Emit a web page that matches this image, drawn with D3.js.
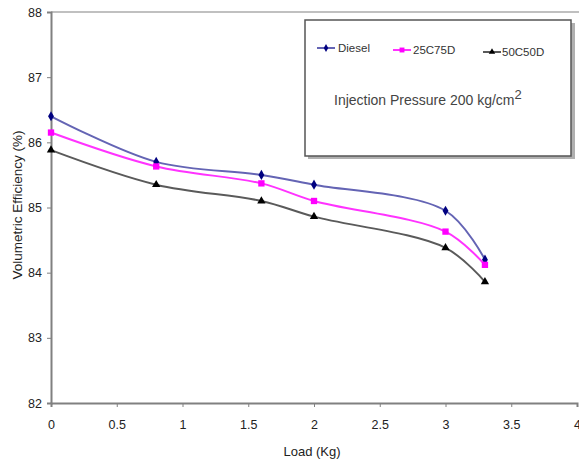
<!DOCTYPE html>
<html>
<head>
<meta charset="utf-8">
<script src="https://cdnjs.cloudflare.com/ajax/libs/d3/7.8.5/d3.min.js"></script>
<style>
  html, body { margin: 0; padding: 0; background: #fff; }
  svg { display: block; font-family: Arial, "Liberation Sans", sans-serif; }
</style>
</head>
<body>
<svg id="chart" width="579" height="463"></svg>
<script>
// Load (kg) at each measurement
const loads = [0, 0.8, 1.6, 2, 3, 3.3];
// Volumetric efficiency (%) per fuel blend
const diesel = [86.4, 85.7, 85.5, 85.35, 84.95, 84.2];
const c25d75 = [86.15, 85.63, 85.37, 85.1, 84.63, 84.12];
const c50d50 = [85.88, 85.35, 85.1, 84.86, 84.38, 83.86];
const seriesNames = ["Diesel", "25C75D", "50C50D"];
const xTicks = [0, 0.5, 1, 1.5, 2, 2.5, 3, 3.5, 4];
const yTicks = [82, 83, 84, 85, 86, 87, 88];

const svg = d3.select("#chart");
const plotLeft = 51, plotRight = 577, plotTop = 12, plotBottom = 403;

const x = d3.scaleLinear().domain([0, 4]).range([plotLeft, plotRight]);
const y = d3.scaleLinear().domain([82, 88]).range([plotBottom, plotTop]);

// top frame line at 88
svg.append("line")
  .attr("x1", plotLeft).attr("x2", 579)
  .attr("y1", y(88)).attr("y2", y(88))
  .attr("stroke", "#c0c0c0").attr("stroke-width", 2);

// y axis
const yAxis = svg.append("g")
  .attr("transform", `translate(${plotLeft},0)`)
  .call(d3.axisLeft(y).tickValues(yTicks).tickSize(4).tickFormat(d3.format("d")));
yAxis.select(".domain").attr("stroke", "#808080").attr("stroke-width", 2);
yAxis.selectAll(".tick line").attr("stroke", "#808080");
yAxis.selectAll(".tick text")
  .attr("x", -9).attr("fill", "#222").style("font-size", "12.5px");

// x axis
const xAxis = svg.append("g")
  .attr("transform", `translate(0,${plotBottom})`)
  .call(d3.axisBottom(x).tickValues(xTicks).tickSize(4).tickFormat(d => String(d)));
xAxis.select(".domain").attr("stroke", "#808080").attr("stroke-width", 2);
xAxis.selectAll(".tick line").attr("stroke", "#808080");
xAxis.selectAll(".tick text")
  .attr("y", 17).attr("fill", "#222").style("font-size", "12.5px");

// axis titles
svg.append("text")
  .attr("transform", `translate(22,205) rotate(-90)`)
  .attr("text-anchor", "middle")
  .attr("fill", "#222").style("font-size", "13.5px")
  .text("Volumetric Efficiency (%)");
svg.append("text")
  .attr("x", 312).attr("y", 456)
  .attr("text-anchor", "middle")
  .attr("fill", "#222").style("font-size", "13px")
  .text("Load (Kg)");

const series = [
  { name: seriesNames[0], values: diesel, line: "#6464b4", marker: "#000080", shape: d3.symbolDiamond, size: 30 },
  { name: seriesNames[1], values: c25d75, line: "#ff33ff", marker: "#ff00ff", shape: d3.symbolSquare, size: 40 },
  { name: seriesNames[2], values: c50d50, line: "#5a5a5a", marker: "#000000", shape: d3.symbolTriangle, size: 30 }
];

const lineGen = d3.line()
  .x(d => x(d[0])).y(d => y(d[1]))
  .curve(d3.curveCatmullRom.alpha(0.5));

series.forEach(s => {
  const pts = loads.map((l, i) => [l, s.values[i]]);
  svg.append("path")
    .datum(pts)
    .attr("d", lineGen)
    .attr("fill", "none")
    .attr("stroke", s.line)
    .attr("stroke-width", 2);
  svg.selectAll(null)
    .data(pts)
    .enter().append("path")
    .attr("transform", d => `translate(${x(d[0])},${y(d[1])})`)
    .attr("d", d3.symbol().type(s.shape).size(s.size))
    .attr("fill", s.marker);
});

// legend box with shadow
svg.append("rect")
  .attr("x", 308).attr("y", 23).attr("width", 267).attr("height", 136)
  .attr("fill", "#b0b0b0");
svg.append("rect")
  .attr("x", 305).attr("y", 20).attr("width", 266).attr("height", 136)
  .attr("fill", "#fff").attr("stroke", "#555").attr("stroke-width", 1.5);

const legendPos = [[317, 338, 48], [393, 413, 50], [483, 502, 52]];
series.forEach((s, i) => {
  const [lx, tx, ly] = legendPos[i];
  svg.append("line")
    .attr("x1", lx).attr("x2", lx + 18).attr("y1", ly).attr("y2", ly)
    .attr("stroke", s.line).attr("stroke-width", 2);
  svg.append("path")
    .attr("transform", `translate(${lx + 9},${ly})`)
    .attr("d", d3.symbol().type(s.shape).size(s.size * 0.6))
    .attr("fill", s.marker);
  svg.append("text")
    .attr("x", tx).attr("y", ly + 4)
    .attr("fill", "#333").style("font-size", "11.5px")
    .text(s.name);
});

const note = svg.append("text")
  .attr("x", 334).attr("y", 105)
  .attr("fill", "#444").style("font-size", "14px");
note.append("tspan").text("Injection  Pressure 200 kg/cm");
note.append("tspan").attr("dy", -6).style("font-size", "13px").text("2");
</script>
</body>
</html>
